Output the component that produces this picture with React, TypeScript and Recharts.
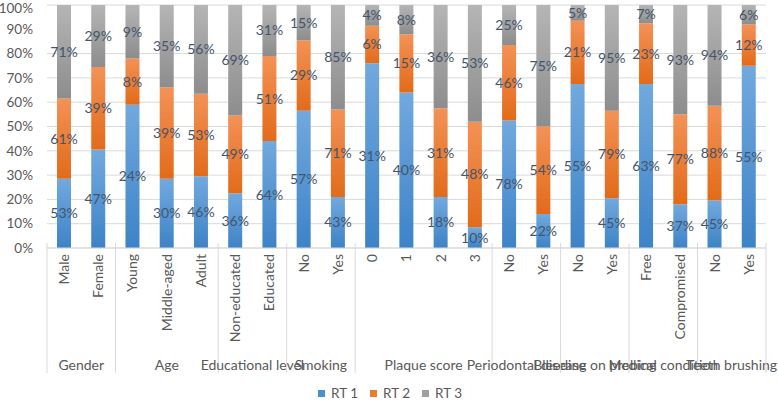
import React from 'react'
import { BarChart, Bar, XAxis, YAxis, CartesianGrid, LabelList } from 'recharts'

const categories = [
    'Male', 'Female',
    'Young', 'Middle-aged', 'Adult',
    'Non-educated', 'Educated',
    'No', 'Yes',
    '0', '1', '2', '3',
    'No', 'Yes',
    'No', 'Yes',
    'Free', 'Compromised',
    'No', 'Yes',
]

const groupNames = [
    'Gender', 'Age', 'Educational level', 'Smoking', 'Plaque score',
    'Periodontal disease', 'Bleeding on probing', 'Medical condition', 'Teeth brushing',
]
const groupSizes = [2, 3, 2, 2, 4, 2, 2, 2, 2]

// segment heights (share of the 100% bar)
const rt1Share = [28.5, 40.5, 59, 28.5, 29.5, 22.5, 44, 56.5, 21, 76, 64, 21, 8.5, 52.5, 14, 67.5, 20.5, 67.5, 18, 19.5, 75]
const rt2Share = [33, 34, 19, 37.5, 34, 32, 35, 29, 36, 15.5, 24, 36.5, 43.5, 31, 36, 26, 36, 25, 37, 39, 17]
const rt3Share = [38.5, 25.5, 22, 34, 36.5, 45.5, 21, 14.5, 43, 8.5, 12, 42.5, 48, 16.5, 50, 6.5, 43.5, 7.5, 45, 41.5, 8]

// printed data labels
const rt1Label = [53, 47, 24, 30, 46, 36, 64, 57, 43, 31, 40, 18, 10, 78, 22, 55, 45, 63, 37, 45, 55]
const rt2Label = [61, 39, 8, 39, 53, 49, 51, 29, 71, 6, 15, 31, 48, 46, 54, 21, 79, 23, 77, 88, 12]
const rt3Label = [71, 29, 9, 35, 56, 69, 31, 15, 85, 4, 8, 36, 53, 25, 75, 5, 95, 7, 93, 94, 6]

const yTicks = [0, 10, 20, 30, 40, 50, 60, 70, 80, 90, 100]

const data = categories.map((name, i) => ({
    name,
    key: `${name}-${i}`,
    rt1: rt1Share[i],
    rt2: rt2Share[i],
    rt3: rt3Share[i],
    rt1Label: rt1Label[i],
    rt2Label: rt2Label[i],
    rt3Label: rt3Label[i],
}))

const W = 778
const H = 402
const PLOT_LEFT = 47
const PLOT_RIGHT = 766
const PLOT_TOP = 5
const PLOT_BOTTOM = 243
const BAND = (PLOT_RIGHT - PLOT_LEFT) / categories.length
const FONT = 'Lato, "Open Sans", sans-serif'
const AXIS_TEXT = '#595959'
const LABEL_TEXT = '#44546A'
const GRID = '#D9D9D9'

const groupStart: Record<number, number> = {}
{
    let s = 0
    groupSizes.forEach((n, g) => {
        groupStart[s] = g
        s += n
    })
}

function CategoryTick(props: any) {
    const { x, payload } = props
    const i = payload.index
    const g = groupStart[i]
    const left = x - BAND / 2
    return (
        <g>
            <text
                x={x}
                y={254}
                transform={`rotate(-90, ${x}, 254)`}
                textAnchor="end"
                dy="0.35em"
                fontSize={14}
                fill={AXIS_TEXT}
                fontFamily={FONT}
            >
                {categories[i]}
            </text>
            {g !== undefined && (
                <>
                    <line x1={left} x2={left} y1={PLOT_BOTTOM} y2={373} stroke={GRID} />
                    <text
                        x={left + (groupSizes[g] * BAND) / 2}
                        y={365}
                        dy="0.35em"
                        textAnchor="middle"
                        fontSize={14}
                        fill={AXIS_TEXT}
                        fontFamily={FONT}
                    >
                        {groupNames[g]}
                    </text>
                </>
            )}
            {i === categories.length - 1 && (
                <line x1={x + BAND / 2} x2={x + BAND / 2} y1={PLOT_BOTTOM} y2={373} stroke={GRID} />
            )}
        </g>
    )
}

const legendItems = [
    { label: 'RT 1', color: '#4A8FD3' },
    { label: 'RT 2', color: '#EE7A2E' },
    { label: 'RT 3', color: '#A0A0A0' },
]

export default function App() {
    return (
        <div style={{ position: 'absolute', left: 0, top: 0, width: W, height: H, background: '#fff', fontFamily: FONT }}>
            <BarChart
                width={W}
                height={H}
                data={data}
                margin={{ top: PLOT_TOP, right: W - PLOT_RIGHT, left: 0, bottom: H - PLOT_BOTTOM - 130 - PLOT_TOP }}
                style={{ fontFamily: FONT }}
            >
                <defs>
                    <linearGradient id="gBlue" x1="0" y1="0" x2="0" y2="1">
                        <stop offset="0%" stopColor="#72A9DE" />
                        <stop offset="100%" stopColor="#3D83C7" />
                    </linearGradient>
                    <linearGradient id="gOrange" x1="0" y1="0" x2="0" y2="1">
                        <stop offset="0%" stopColor="#F39256" />
                        <stop offset="100%" stopColor="#E26B1A" />
                    </linearGradient>
                    <linearGradient id="gGray" x1="0" y1="0" x2="0" y2="1">
                        <stop offset="0%" stopColor="#B5B5B5" />
                        <stop offset="100%" stopColor="#8D8D8D" />
                    </linearGradient>
                </defs>
                <CartesianGrid vertical={false} stroke={GRID} />
                <XAxis
                    dataKey="key"
                    interval={0}
                    height={130}
                    tickLine={false}
                    axisLine={{ stroke: GRID }}
                    tick={<CategoryTick />}
                />
                <YAxis
                    width={PLOT_LEFT}
                    domain={[0, 100]}
                    ticks={yTicks}
                    tickFormatter={(v: number) => `${v}%`}
                    tickLine={false}
                    axisLine={false}
                    tickMargin={8}
                    tick={{ fontSize: 13.5, fill: AXIS_TEXT, fontFamily: FONT }}
                    allowDataOverflow
                />
                <Bar dataKey="rt1" stackId="a" fill="url(#gBlue)" barSize={14} isAnimationActive={false}>
                    <LabelList dataKey="rt1Label" position="center" formatter={(v: any) => `${v}%`} fill={LABEL_TEXT} fontSize={14} fontFamily={FONT} />
                </Bar>
                <Bar dataKey="rt2" stackId="a" fill="url(#gOrange)" barSize={14} isAnimationActive={false}>
                    <LabelList dataKey="rt2Label" position="center" formatter={(v: any) => `${v}%`} fill={LABEL_TEXT} fontSize={14} fontFamily={FONT} />
                </Bar>
                <Bar dataKey="rt3" stackId="a" fill="url(#gGray)" barSize={14} isAnimationActive={false}>
                    <LabelList dataKey="rt3Label" position="center" formatter={(v: any) => `${v}%`} fill={LABEL_TEXT} fontSize={14} fontFamily={FONT} />
                </Bar>
            </BarChart>
            <div style={{ position: 'absolute', left: 318, top: 386, height: 14, display: 'flex', alignItems: 'center', fontSize: 13.5, lineHeight: '14px', color: AXIS_TEXT }}>
                {legendItems.map((it) => (
                    <div key={it.label} style={{ display: 'flex', alignItems: 'center', marginRight: 12 }}>
                        <span style={{ display: 'inline-block', width: 7, height: 7, background: it.color, marginRight: 6 }} />
                        <span>{it.label}</span>
                    </div>
                ))}
            </div>
        </div>
    )
}
